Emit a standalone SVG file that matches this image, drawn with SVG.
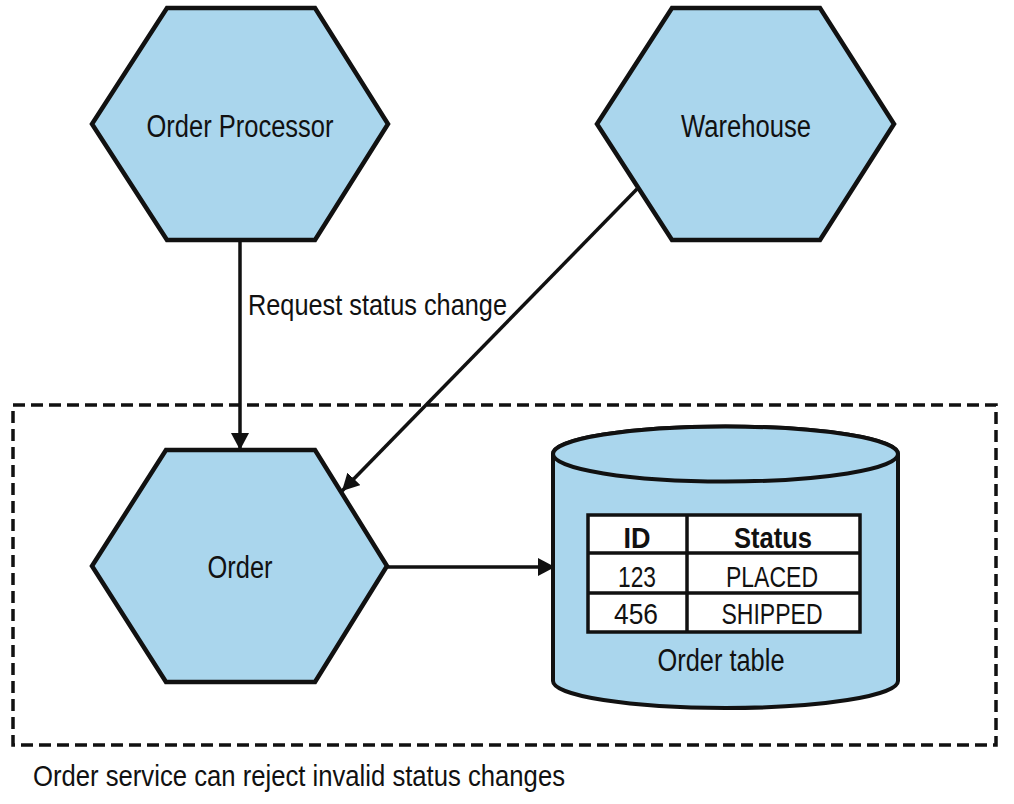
<svg xmlns="http://www.w3.org/2000/svg" width="1014" height="804" viewBox="0 0 1014 804">
  <style>
    .hex { fill: #aad6ed; stroke: #111; stroke-width: 4.5; stroke-linejoin: miter; }
    .cyl { fill: #aad6ed; stroke: #111; stroke-width: 4; }
    .edge { fill: none; stroke: #111; stroke-width: 3.5; }
    .boundary { fill: none; stroke: #111; stroke-width: 3.5; stroke-dasharray: 12 6; }
    .tbl { fill: #fff; stroke: #111; stroke-width: 3.5; }
    .tline { stroke: #111; stroke-width: 3.5; }
    text { font-family: "Liberation Sans", Arial, sans-serif; fill: #111; }
    .lbl { font-size: 31px; text-anchor: middle; }
    .cell { font-size: 30px; text-anchor: middle; }
    .head { font-size: 30px; font-weight: bold; text-anchor: middle; }
    .note { font-size: 30px; }
  </style>
  <defs>
    <marker id="arrow" markerUnits="userSpaceOnUse" markerWidth="18" markerHeight="18" refX="17" refY="9" orient="auto">
      <path d="M0,0 L17,9 L0,18 Z" fill="#111"/>
    </marker>
  </defs>

  <rect width="1014" height="804" fill="#fff"/>

  <!-- service boundary -->
  <g id="order-service-boundary">
    <rect class="boundary" x="13" y="405" width="983" height="340"/>
    <text class="note" x="33" y="786" textLength="532" lengthAdjust="spacingAndGlyphs">Order service can reject invalid status changes</text>
  </g>

  <!-- connectors -->
  <g id="connectors">
    <line class="edge" x1="240" y1="240" x2="240" y2="450" marker-end="url(#arrow)"/>
    <text class="note" x="248" y="315" textLength="259" lengthAdjust="spacingAndGlyphs">Request status change</text>
    <line class="edge" x1="637" y1="189" x2="342" y2="491" marker-end="url(#arrow)"/>
    <line class="edge" x1="387" y1="567" x2="555" y2="567" marker-end="url(#arrow)"/>
  </g>

  <g id="order-processor">
    <polygon class="hex" points="167,8 315,8 388,124 315,240 167,240 92,124"/>
    <text class="lbl" x="240" y="137" textLength="187" lengthAdjust="spacingAndGlyphs">Order Processor</text>
  </g>

  <g id="warehouse">
    <polygon class="hex" points="672,8 820,8 894,124 820,240 672,240 597,124"/>
    <text class="lbl" x="746" y="137" textLength="130" lengthAdjust="spacingAndGlyphs">Warehouse</text>
  </g>

  <g id="order">
    <polygon class="hex" points="166,450 315,450 387,566 315,682 166,682 92,566"/>
    <text class="lbl" x="240" y="578" textLength="65" lengthAdjust="spacingAndGlyphs">Order</text>
  </g>

  <g id="order-table">
    <path class="cyl" d="M553,454 L553,681 A172.5,27 0 0 0 898,681 L898,454 A172.5,27.5 0 0 0 553,454 Z"/>
    <ellipse class="cyl" cx="725.5" cy="454" rx="172.5" ry="27.5"/>
    <rect class="tbl" x="588" y="515" width="272" height="117"/>
    <line class="tline" x1="588" y1="553" x2="860" y2="553"/>
    <line class="tline" x1="588" y1="593" x2="860" y2="593"/>
    <line class="tline" x1="687" y1="515" x2="687" y2="632"/>
    <text class="head" x="637" y="548" textLength="27" lengthAdjust="spacingAndGlyphs">ID</text>
    <text class="head" x="773" y="548" textLength="78" lengthAdjust="spacingAndGlyphs">Status</text>
    <text class="cell" x="637" y="587" textLength="38" lengthAdjust="spacingAndGlyphs">123</text>
    <text class="cell" x="772" y="587" textLength="92" lengthAdjust="spacingAndGlyphs">PLACED</text>
    <text class="cell" x="636" y="624" textLength="44" lengthAdjust="spacingAndGlyphs">456</text>
    <text class="cell" x="772" y="624" textLength="101" lengthAdjust="spacingAndGlyphs">SHIPPED</text>
    <text class="lbl" x="721" y="671" textLength="127" lengthAdjust="spacingAndGlyphs">Order table</text>
  </g>
</svg>
